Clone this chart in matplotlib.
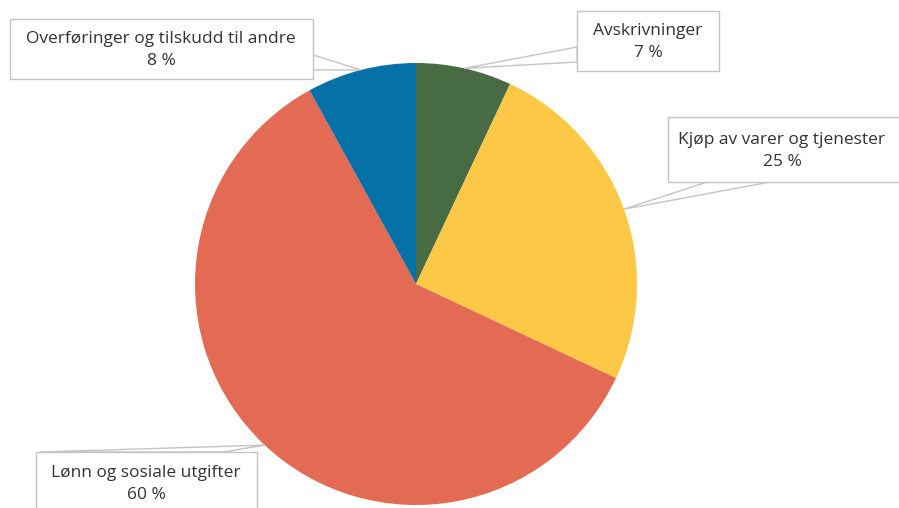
import matplotlib.pyplot as plt
from matplotlib.patches import Polygon, Rectangle
import numpy as np

# data
labels = ['Avskrivninger', 'Kjøp av varer og tjenester',
          'Lønn og sosiale utgifter', 'Overføringer og tilskudd til andre']
shares = [7, 25, 60, 8]
colors = ['#476b42', '#fdc845', '#e36a53', '#0571a6']

# layout (pixel coords, y up)
W, H = 899, 508
cx, cy, R = 416, 224, 221
# box: x, y(bottom), w, h, text centre, wedge base points
boxes = [
    (577, 437, 142, 60, (648, 466), [(577, 461), (577, 446)]),
    (668, 326, 260, 65, (782, 357), [(707, 326), (770, 326)]),
    (36, -20, 221, 76, (146, 24), [(40, 56), (223, 56)]),
    (10, 429, 303, 60, (161, 458), [(313, 453), (313, 438)]),
]

fig = plt.figure(figsize=(W / 100, H / 100), dpi=100)
ax = fig.add_axes([0, 0, 1, 1])

ax.pie(shares, colors=colors, startangle=90, counterclock=False,
       radius=R, center=(cx, cy), frame=True,
       wedgeprops=dict(linewidth=0))
ax.set_xlim(0, W)
ax.set_ylim(0, H)
ax.set_aspect('equal')
ax.axis('off')

total = sum(shares)
start = 90.0
for lab, val, (bx, by, bw, bh, tpos, base) in zip(labels, shares, boxes):
    span = 360.0 * val / total
    mid = np.deg2rad(start - span / 2)
    start -= span
    tip = (cx + R * np.cos(mid), cy + R * np.sin(mid))
    # callout pointer + box
    ax.add_patch(Polygon([base[0], tip, base[1]], closed=True, facecolor='white',
                         edgecolor='#c4c4c4', linewidth=1, zorder=5))
    ax.add_patch(Rectangle((bx, by), bw, bh, facecolor='white',
                           edgecolor='#c4c4c4', linewidth=1, zorder=6))
    ax.text(tpos[0], tpos[1], f'{lab}\n{val} %', ha='center', va='center',
            fontsize=12.5, color='#333333', family='Open Sans',
            linespacing=1.58, zorder=7)

fig.savefig('out.png', dpi=100)
